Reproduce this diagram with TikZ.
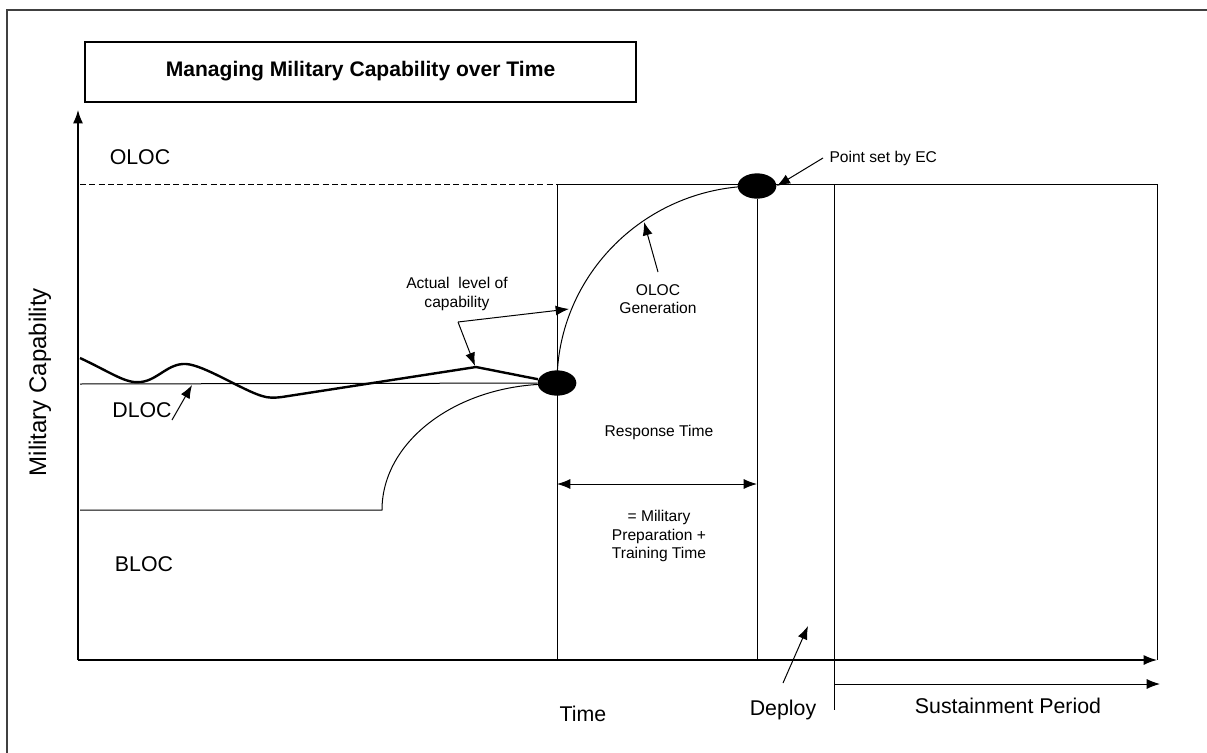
\documentclass[tikz,border=0pt]{standalone}
\usepackage{fontspec}
\setmainfont{Liberation Sans}
\usetikzlibrary{arrows.meta,shapes.geometric}

\begin{document}
\begin{tikzpicture}[x=0.75pt, y=-0.75pt, line width=0.75pt,
  pointer/.style={-{Latex[length=10pt,width=7.5pt]}},
  note/.style={font=\fontsize{11.7}{13.9}\selectfont, align=center, inner sep=0pt},
  axislbl/.style={font=\fontsize{16}{19}\selectfont, inner sep=0pt},
  blob/.style={ellipse, fill, minimum width=29pt, minimum height=19pt, inner sep=0pt}]
  \useasboundingbox (0,0) rectangle (1207,753);
  \draw[line width=1.5pt, black!75] (7,780) |- (1230,10);
  \node[draw, line width=1.5pt, minimum width=413pt, minimum height=45pt,
    font=\fontsize{15.8}{19}\selectfont\bfseries] (title) at (360.5,71.5) {Managing Military Capability over Time};
  % axes
  \coordinate (o) at (78,660);
  \draw[pointer, line width=1pt] (o) -- (78,110);
  \draw[pointer, line width=1pt] (o) -- (1157,660);
  \node[axislbl, rotate=90, font=\fontsize{18}{21}\selectfont] (ylbl) at (40,382) {Military Capability};
  \node[axislbl] (xlbl) at (583,714) {Time};
  % levels
  \node[blob] (now) at (557,383) {};
  \node[blob] (ec) at (757,186) {};
  \draw[dashed, dash pattern=on 4.5pt off 2.5pt] (80,184) -- (557,184);
  \draw (557,660) -- (557,184) -- (1157,184) -- (1157,660);
  \draw (ec) -- (757,660);
  \draw (834,184) -- (834,710);
  \draw (80,384) -- (now);
  \draw (80,510) -- (382,510) arc[start angle=180, end angle=270, x radius=170, y radius=126];
  \draw (557,383) arc[start angle=180, end angle=270, x radius=200, y radius=197];
  \draw[line width=1.8pt, line join=round]
    (80,358) .. controls (112,373) and (126,384) .. (141,382)
    .. controls (158,380) and (168,363) .. (186,364)
    .. controls (204,365) and (242,390) .. (262,396)
    .. controls (268,398) and (274,398) .. (282,397)
    -- (476,367) -- (now);
  \node[axislbl] (oloc) at (140,157) {OLOC};
  \node[axislbl] (dloc) at (142,410) {DLOC};
  \node[axislbl] (bloc) at (144,564) {BLOC};
  \draw[pointer] (172,420) -- (192,385);
  % labels and pointers
  \node[note] (actual) at (457,294) {Actual~ level of\\capability};
  \coordinate (fork) at (458,322);
  \draw[pointer] (fork) -- (569,309);
  \draw[pointer] (fork) -- (475,366);
  \node[note] (gen) at (658,299) {OLOC\\Generation};
  \draw[pointer] (658,272) -- (644,222);
  \node[note, anchor=west] (setec) at (829,158) {Point set by EC};
  \draw[pointer] (setec.west) ++(-6,0) -- (ec.east);
  \node[note] (resp) at (659,432) {Response Time};
  \draw[{Latex[length=10pt,width=7.5pt]}-{Latex[length=10pt,width=7.5pt]}] (557,484) -- (757,484);
  \node[note] (prep) at (659,536) {= Military\\Preparation +\\Training Time};
  \node[axislbl] (deploy) at (783,710) {Deploy};
  \draw[pointer] (783,683) -- (808,626);
  \draw[pointer] (834,684) -- (1160,684);
  \node[axislbl] (sust) at (1008,706) {Sustainment Period};
\end{tikzpicture}
\end{document}
